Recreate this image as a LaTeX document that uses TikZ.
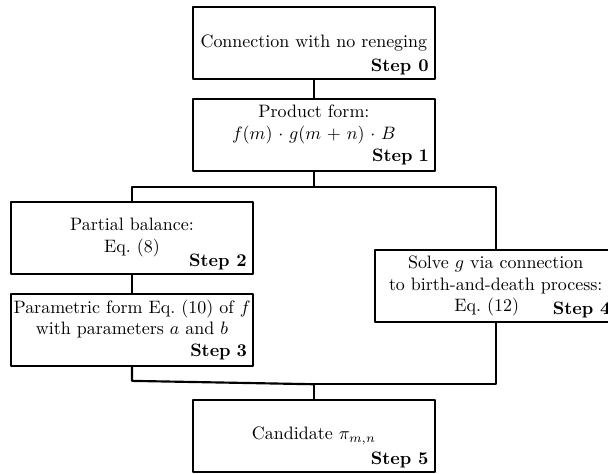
\documentclass[tikz,border=0pt]{standalone}
\usetikzlibrary{positioning}

\begin{document}
\begin{tikzpicture}[very thick,line join=round,node distance=1.8cm,
    step node/.style={rectangle,draw,fill=white,text width=4.5cm,minimum height=40pt,align=center,inner sep=3.33pt},
    step label/.style={anchor=south east,font=\bfseries,inner xsep=3.5pt,inner ysep=2.3pt}]

            \useasboundingbox (-174.7pt,23.9pt) rectangle ++(338.4pt,-263.8pt);

            \node[step node] (s0) {Connection with no reneging};
            \node[step node] (s1) [below of=s0] {Product form:\\$f(m)\cdot g(m+n)\cdot B$\\\mbox{}\hfill\textbf{Step 1}};

            \node[step node] (s2) [below left of=s1, xshift=-65, yshift=-21] {Partial balance:\\Eq.~(8)};
            \node[step node] (s3) [below of=s2] {\makebox[\linewidth]{Parametric form Eq.~(10) of $f$}\\with parameters $a$ and $b$\\\mbox{}\hfill\textbf{Step 3}};
            \node[step node] (s4) [below right of=s1, xshift=65, yshift=-48] {Solve $g$ via connection\\to birth-and-death process:\\Eq.~(12)\kern10pt};

            \node[step node] (s5) [below of=s3, xshift=101.2, yshift=-8] {Candidate $\pi_{m,n}$};

            % step numbers
            \node[step label] (s0 num) at (s0.south east) {Step 0};
            \node[step label] (s2 num) at (s2.south east) {Step 2};
            \node[step label] (s4 num) at (s4.south east) {Step 4};
            \node[step label] (s5 num) at (s5.south east) {Step 5};

            \coordinate (split) at ([yshift=-8.3pt]s1.south);
            \coordinate (bend3) at ([yshift=-7.8pt]s3.south);
            \coordinate (merge) at ([yshift=8.3pt]s5.north);

            \draw (s0) -- (s1);
            \draw (s1) -- (split);
            \draw (split) -| (s2);
            \draw (split) -| (s4);
            \draw (s2) -- (s3);
            \draw (s3) -- (bend3) -- (merge);
            \draw (s4) |- (merge);
            \draw (merge) -- (s5);
        \end{tikzpicture}
\end{document}
